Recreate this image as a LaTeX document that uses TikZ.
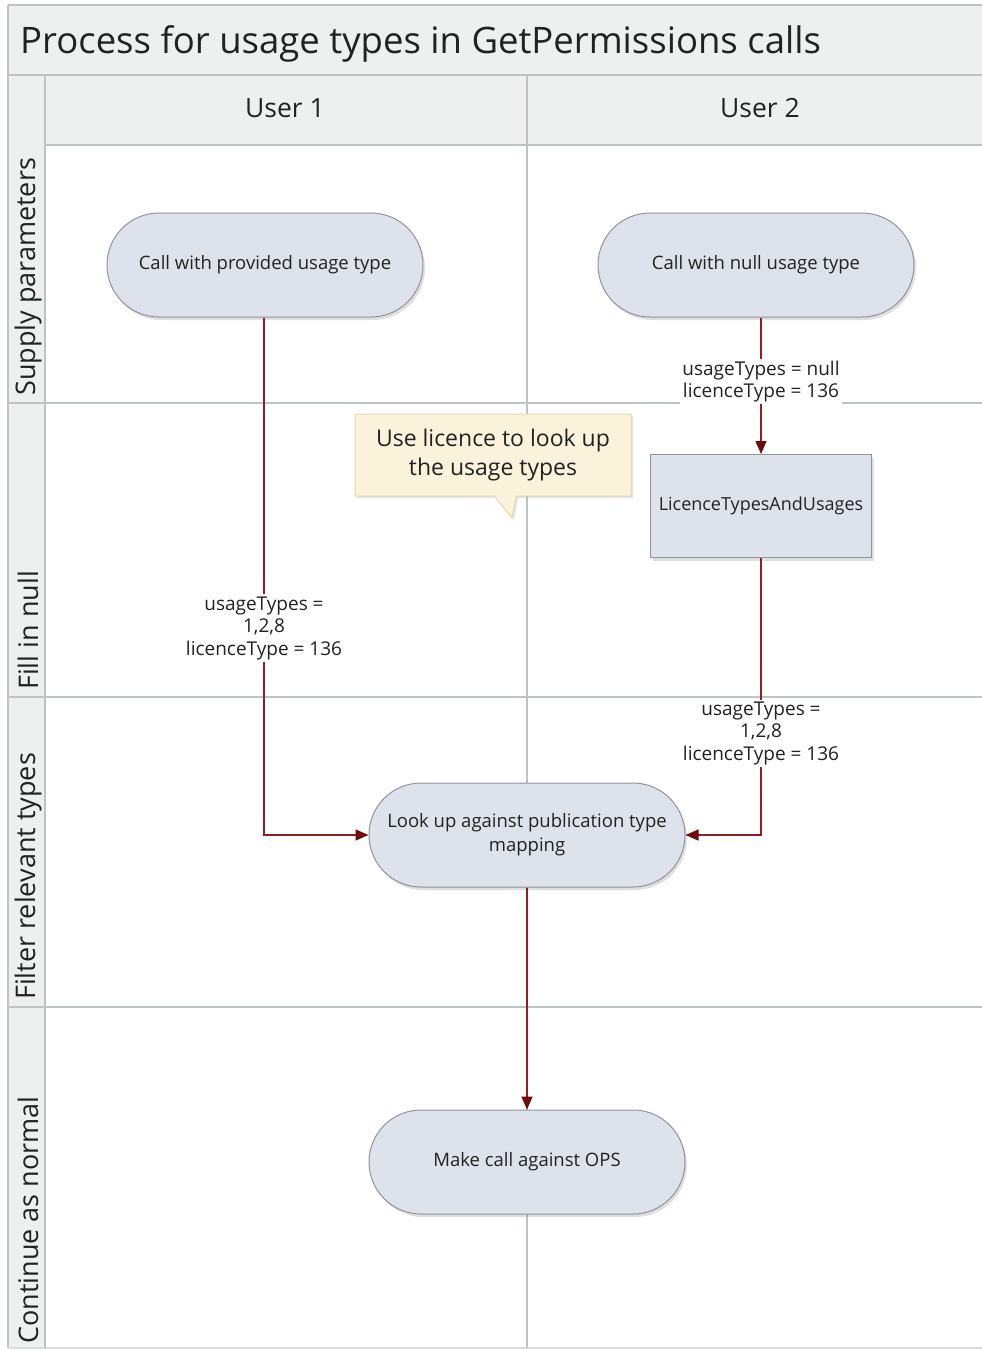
\documentclass[tikz,border=0pt]{standalone}
\usepackage{fontspec}
\setmainfont{Open Sans}
\usetikzlibrary{arrows.meta,shapes.callouts,shadows}
\definecolor{bandfill}{HTML}{EEF0F0}
\definecolor{gridline}{HTML}{BCC4C4}
\definecolor{nodefill}{HTML}{DEE2EA}
\definecolor{nodeline}{HTML}{8E959E}
\definecolor{flowred}{HTML}{8E2020}
\definecolor{tipred}{HTML}{6E0A0A}
\definecolor{notefill}{HTML}{FAF2DA}
\definecolor{noteline}{HTML}{E4D8B0}
\definecolor{txt}{HTML}{222222}
\tikzset{
  grid/.style={draw=gridline, line width=1.6pt},
  band/.style={fill=bandfill, draw=none},
  lanetitle/.style={text=txt, font=\fontsize{26.5}{30}\selectfont, inner sep=0pt},
  lanelabel/.style={text=txt, font=\fontsize{27}{30}\selectfont, rotate=90, anchor=west, inner sep=0pt},
  proc/.style={draw=nodeline, fill=nodefill, line width=1pt, rounded corners=52pt,
    minimum width=316pt, minimum height=104pt, align=center, text=txt,
    font=\fontsize{18.5}{24}\selectfont,
    drop shadow={opacity=0.25, shadow xshift=2pt, shadow yshift=-3pt}},
  store/.style={draw=nodeline, fill=nodefill, line width=1pt,
    minimum width=221pt, minimum height=103pt, align=center, text=txt,
    font=\fontsize{18}{24}\selectfont,
    drop shadow={opacity=0.25, shadow xshift=2pt, shadow yshift=-3pt}},
  flow/.style={draw=flowred, line width=1.4pt,
    -{Triangle[length=13pt,width=11pt,fill=tipred,color=tipred]}},
  lbl/.style={fill=white, text=txt, align=center, inner sep=2pt,
    font=\fontsize{19}{22.5}\selectfont},
  note/.style={rectangle callout, fill=notefill, draw=noteline, line width=1pt,
    minimum width=276pt, minimum height=82pt, align=center, text=txt,
    font=\fontsize{23}{29.5}\selectfont, callout pointer width=22pt,
    drop shadow={opacity=0.2, shadow xshift=2pt, shadow yshift=-2pt}}
}
\begin{document}
\begin{tikzpicture}[x=1pt,y=-1pt]
\useasboundingbox (0,0) rectangle (982,1350);
\fill[white] (0,0) rectangle (982,1350);
% bands
\fill[band] (8,5) rectangle (982,75);
\fill[band] (45,75) rectangle (982,145);
\fill[band] (8,75) rectangle (45,1348);
% grid lines
\draw[grid] (8,5) -- (982,5);
\draw[grid] (8,5) -- (8,1348);
\draw[grid, draw=gridline!60] (8,1348) -- (982,1348);
\draw[grid] (8,75) -- (982,75);
\draw[grid] (45,145) -- (982,145);
\draw[grid] (8,403) -- (982,403);
\draw[grid] (8,697) -- (982,697);
\draw[grid] (8,1007) -- (982,1007);
\draw[grid] (45,75) -- (45,1348);
\draw[grid] (527,75) -- (527,1348);
% titles
\node[anchor=base west, text=txt, font=\fontsize{36.5}{40}\selectfont, inner sep=0pt] (title) at (20,53) {Process for usage types in GetPermissions calls};
\node[lanetitle] (u1) at (285,108) {User 1};
\node[lanetitle] (u2) at (760,108) {User 2};
\node[lanelabel] (l1) at (28,396) {Supply parameters};
\node[lanelabel] (l2) at (28,690) {Fill in null};
\node[lanelabel] (l3) at (28,1000) {Filter relevant types};
\node[lanelabel] (l4) at (28,1344) {Continue as normal};
% nodes
\node[proc] (n1) at (265,265) {Call with provided usage type};
\node[proc] (n2) at (756,265) {Call with null usage type};
\node[store] (n4) at (761,506) {LicenceTypesAndUsages};
\node[proc] (n3) at (527,835) {Look up against publication type\\mapping};
\node[proc] (n5) at (527,1162) {Make call against OPS};
\node[note, callout absolute pointer={(512,518)}] (c1) at (493,455) {Use licence to look up\\the usage types};
% connectors
\draw[flow] (n1.south -| 264,0) |- node[lbl, pos=0.3] {usageTypes =\\1,2,8\\licenceType = 136} (n3.west);
\draw[flow] (n4.north |- n2.south) -- node[lbl, pos=0.47] {usageTypes = null\\licenceType = 136} (n4.north);
\draw[flow] (n4.south) |- node[lbl, pos=0.316] {usageTypes =\\1,2,8\\licenceType = 136} (n3.east);
\draw[flow] (n3.south) -- (n5.north);
\end{tikzpicture}
\end{document}
